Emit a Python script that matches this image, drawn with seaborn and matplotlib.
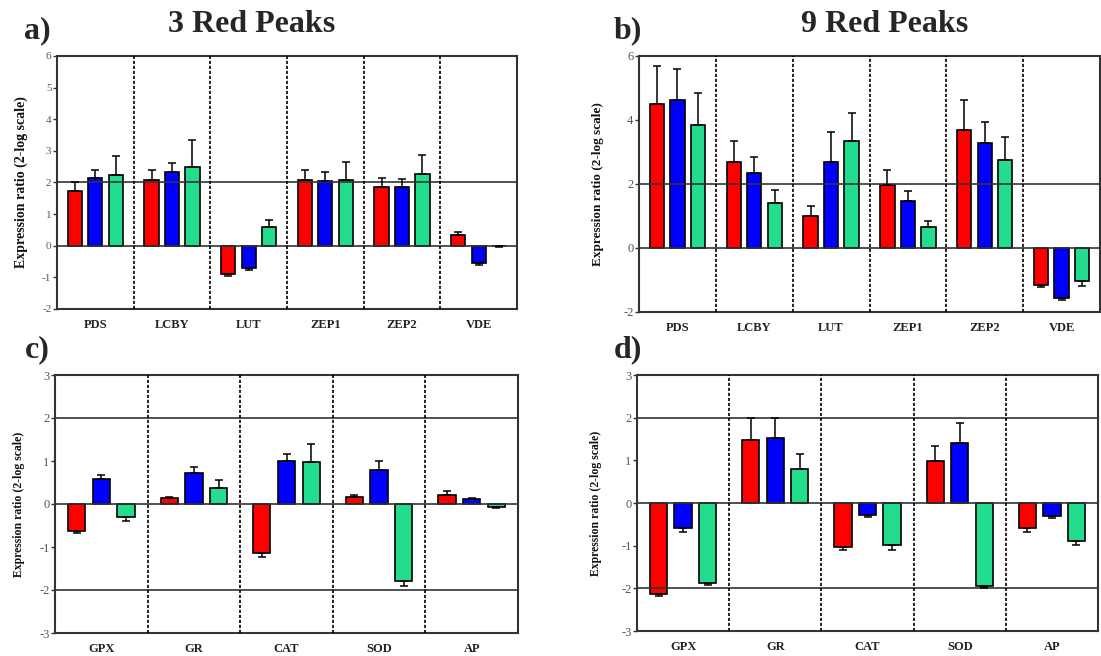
import numpy as np
import pandas as pd
import matplotlib
matplotlib.use("Agg")
import matplotlib.pyplot as plt
import seaborn as sns

# ---------------- data ----------------
genes_top = ["PDS", "LCBY", "LUT", "ZEP1", "ZEP2", "VDE"]
genes_bot = ["GPX", "GR", "CAT", "SOD", "AP"]
series = ["S1", "S2", "S3"]
colors = ["#FF0000", "#0000FF", "#22DD8E"]

# panel a) 3 Red Peaks, carotenoid genes
a_red = [1.73, 2.07, -0.89, 2.09, 1.87, 0.33]
a_red_err = [0.30, 0.33, 0.06, 0.32, 0.28, 0.09]
a_blue = [2.13, 2.34, -0.69, 2.05, 1.87, -0.55]
a_blue_err = [0.26, 0.29, 0.07, 0.27, 0.23, 0.07]
a_green = [2.25, 2.50, 0.59, 2.07, 2.28, -0.02]
a_green_err = [0.58, 0.83, 0.22, 0.58, 0.60, 0.01]

# panel b) 9 Red Peaks, carotenoid genes
b_red = [4.50, 2.68, 1.00, 1.97, 3.70, -1.17]
b_red_err = [1.18, 0.66, 0.30, 0.47, 0.91, 0.06]
b_blue = [4.64, 2.35, 2.68, 1.48, 3.27, -1.55]
b_blue_err = [0.94, 0.48, 0.93, 0.30, 0.66, 0.06]
b_green = [3.83, 1.41, 3.33, 0.66, 2.76, -1.04]
b_green_err = [1.01, 0.39, 0.89, 0.18, 0.72, 0.14]

# panel c) 3 Red Peaks, antioxidant genes
c_red = [-0.62, 0.13, -1.15, 0.16, 0.21]
c_red_err = [0.06, 0.04, 0.08, 0.06, 0.09]
c_blue = [0.57, 0.73, 1.00, 0.80, 0.11]
c_blue_err = [0.10, 0.14, 0.17, 0.21, 0.03]
c_green = [-0.31, 0.38, 0.97, -1.78, -0.07]
c_green_err = [0.09, 0.18, 0.43, 0.13, 0.03]

# panel d) 9 Red Peaks, antioxidant genes
d_red = [-2.13, 1.48, -1.03, 0.99, -0.59]
d_red_err = [0.05, 0.52, 0.08, 0.35, 0.10]
d_blue = [-0.59, 1.53, -0.27, 1.40, -0.30]
d_blue_err = [0.08, 0.47, 0.06, 0.47, 0.05]
d_green = [-1.88, 0.79, -0.99, -1.95, -0.88]
d_green_err = [0.05, 0.35, 0.11, 0.04, 0.11]

ylabel = "Expression ratio (2-log scale)"

# ---------------- style ----------------
sns.set_theme(style="white")
plt.rcParams["font.family"] = ["Liberation Serif", "DejaVu Serif"]
plt.rcParams["axes.unicode_minus"] = False

fig = plt.figure(figsize=(11.01, 6.56), dpi=100)


def panel(rect, genes, vals, errs, ylim, yticks, hlines, ylab_size, labelpad,
          tick_size, cat_size):
    ax = fig.add_axes(rect)
    rows = []
    for s, v, e in zip(series, vals, errs):
        for g, vv, ee in zip(genes, v, e):
            rows.append({"gene": g, "series": s, "value": vv, "err": ee})
    df = pd.DataFrame(rows)
    sns.barplot(data=df, x="gene", y="value", hue="series", order=genes,
                hue_order=series, palette=colors, saturation=1, width=0.8,
                gap=0.3, edgecolor="black", linewidth=1.2, errorbar=None,
                legend=False, ax=ax, zorder=2)
    # one-sided error bars at the bar centres
    for cont, s in zip(ax.containers, series):
        sub = df[df.series == s].set_index("gene").loc[genes]
        xs = [b.get_x() + b.get_width() / 2 for b in cont]
        v = sub["value"].to_numpy()
        e = sub["err"].to_numpy()
        lo = np.where(v < 0, e, 0)
        up = np.where(v >= 0, e, 0)
        ax.errorbar(xs, v, yerr=[lo, up], fmt="none", ecolor="black",
                    elinewidth=1.1, capsize=3.0, capthick=1.1, zorder=4)
    for h in hlines:
        ax.axhline(h, color="#333333", lw=1.2, zorder=3)
    for i in range(len(genes) - 1):
        ax.axvline(i + 0.5, color="black", lw=1.2, ls=(0, (1.9, 1.1)), zorder=3)
    ax.set_xlim(-0.5, len(genes) - 0.5)
    ax.set_ylim(*ylim)
    ax.set_yticks(yticks)
    ax.set_xlabel("")
    ax.set_ylabel(ylabel, fontsize=ylab_size, fontweight="bold", labelpad=labelpad,
                  color="#111111")
    for sp in ax.spines.values():
        sp.set_visible(True)
        sp.set_color("#333333")
        sp.set_linewidth(1.5)
    ax.tick_params(axis="y", direction="out", length=3, width=1, left=True,
                   color="#333333", labelsize=tick_size, labelcolor="#555555", pad=1)
    ax.tick_params(axis="x", length=0, labelsize=cat_size, pad=7)
    for lab in ax.get_xticklabels():
        lab.set_fontweight("bold")
        lab.set_color("#222222")
    return ax


panel([57 / 1101, 1 - 309 / 656, 460 / 1101, 253 / 656], genes_top,
      [a_red, a_blue, a_green], [a_red_err, a_blue_err, a_green_err],
      (-2, 6), list(range(-2, 7)), [0, 2], 10, 10, 8, 9)
panel([639 / 1101, 1 - 312 / 656, 461 / 1101, 256 / 656], genes_top,
      [b_red, b_blue, b_green], [b_red_err, b_blue_err, b_green_err],
      (-2, 6), [-2, 0, 2, 4, 6], [0, 2], 9.5, 14, 9, 9)
panel([55 / 1101, 1 - 633 / 656, 463 / 1101, 258 / 656], genes_bot,
      [c_red, c_blue, c_green], [c_red_err, c_blue_err, c_green_err],
      (-3, 3), list(range(-3, 4)), [-2, 0, 2], 8.5, 10, 9, 9)
panel([637 / 1101, 1 - 631 / 656, 461 / 1101, 256 / 656], genes_bot,
      [d_red, d_blue, d_green], [d_red_err, d_blue_err, d_green_err],
      (-3, 3), list(range(-3, 4)), [-2, 0, 2], 8.5, 14, 9, 9)

# panel letters and titles
fig.text(24 / 1101, 1 - 31 / 656, "a)", fontsize=23, fontweight="bold", va="center", ha="left")
fig.text(252 / 1101, 1 - 24 / 656, "3 Red Peaks", fontsize=23, fontweight="bold", va="center", ha="center")
fig.text(614 / 1101, 1 - 31 / 656, "b)", fontsize=23, fontweight="bold", va="center", ha="left")
fig.text(885 / 1101, 1 - 24 / 656, "9 Red Peaks", fontsize=23, fontweight="bold", va="center", ha="center")
fig.text(25 / 1101, 1 - 350 / 656, "c)", fontsize=23, fontweight="bold", va="center", ha="left")
fig.text(614 / 1101, 1 - 350 / 656, "d)", fontsize=23, fontweight="bold", va="center", ha="left")

fig.savefig("out.png", dpi=100)
